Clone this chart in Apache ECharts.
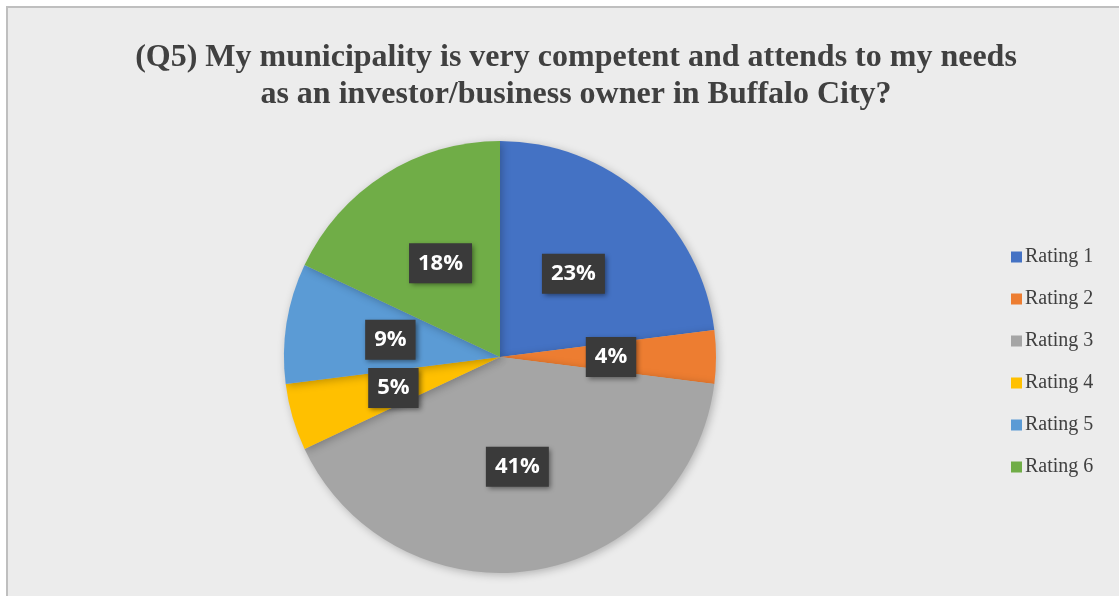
<!DOCTYPE html>
<html>
<head>
<meta charset="utf-8">
<script src="https://cdn.jsdelivr.net/npm/echarts@6/dist/echarts.min.js"></script>
<style>
  html, body { margin: 0; padding: 0; background: #ffffff; }
  #chart { width: 1119px; height: 596px; }
</style>
</head>
<body>
<div id="chart"></div>
<script>
// Survey responses for question 5 (share of respondents per rating, %)
const categories = ['Rating 1', 'Rating 2', 'Rating 3', 'Rating 4', 'Rating 5', 'Rating 6'];
const shares = [23, 4, 41, 5, 9, 18];
const colors = ['#4472c4', '#ed7d31', '#a5a5a5', '#ffc000', '#5b9bd5', '#70ad47'];
const titleText = '(Q5) My municipality is very competent and attends to my needs\nas an investor/business owner in Buffalo City?';

const chart = echarts.init(document.getElementById('chart'), null, { renderer: 'canvas' });

chart.setOption({
  backgroundColor: '#ffffff',
  animation: false,
  color: colors,
  graphic: [{
    type: 'rect',
    z: -10,
    shape: { x: 7, y: 7, width: 1200, height: 700 },
    style: { fill: '#ececec', stroke: '#bfbfbf', lineWidth: 2 }
  }],
  title: {
    text: titleText,
    left: 571,
    top: 34,
    textAlign: 'center',
    textStyle: {
      fontFamily: '"Liberation Serif", "Times New Roman", serif',
      fontWeight: 'bold',
      fontSize: 32,
      lineHeight: 37,
      color: '#404040'
    }
  },
  legend: {
    orient: 'vertical',
    left: 1006,
    top: 242,
    icon: 'rect',
    itemWidth: 11,
    itemHeight: 11,
    itemGap: 22,
    data: categories,
    textStyle: {
      fontFamily: '"Liberation Serif", "Times New Roman", serif',
      fontSize: 20,
      lineHeight: 20,
      color: '#404040',
      padding: [0, 0, 0, -2]
    }
  },
  series: [{
    type: 'pie',
    center: [500, 357],
    radius: 216,
    startAngle: 90,
    clockwise: true,
    avoidLabelOverlap: false,
    itemStyle: {
      shadowBlur: 8,
      shadowOffsetX: 2,
      shadowOffsetY: 2,
      shadowColor: 'rgba(0,0,0,0.25)'
    },
    label: {
      show: true,
      position: 'inside',
      formatter: p => p.value + '%',
      color: '#ffffff',
      fontFamily: '"Open Sans", "Noto Sans", sans-serif',
      fontWeight: 'bold',
      fontSize: 22,
      lineHeight: 26,
      backgroundColor: '#3a3a3a',
      padding: [7, 9, 7, 9],
      shadowBlur: 5,
      shadowOffsetX: 2,
      shadowOffsetY: 2,
      shadowColor: 'rgba(0,0,0,0.45)'
    },
    labelLine: { show: false },
    emphasis: { disabled: true },
    data: categories.map((name, i) => ({ name, value: shares[i] }))
  }]
});
</script>
</body>
</html>
